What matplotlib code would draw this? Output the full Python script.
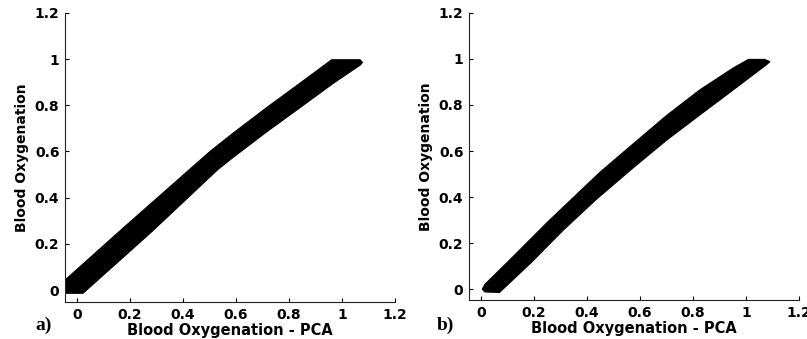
import numpy as np
import matplotlib
matplotlib.use('Agg')
import matplotlib.pyplot as plt

# outline of the scatter band, panel a (upper edge left->right, lower edge right->left)
a_upper_x = [-0.045, 0.18, 0.425, 0.502, 0.59, 0.716, 0.842, 0.961, 1.068, 1.077]
a_upper_y = [0.043, 0.274, 0.522, 0.6, 0.68, 0.79, 0.896, 0.997, 0.997, 0.986]
a_lower_x = [1.07, 0.967, 0.842, 0.716, 0.59, 0.532, 0.28, 0.023, -0.045]
a_lower_y = [0.975, 0.895, 0.79, 0.685, 0.575, 0.522, 0.25, -0.014, -0.014]

# panel b
b_upper_x = [0.005, 0.015, 0.126, 0.249, 0.373, 0.449, 0.575, 0.701, 0.826, 0.952, 1.009, 1.07, 1.09]
b_upper_y = [0.0, 0.021, 0.147, 0.289, 0.425, 0.508, 0.632, 0.755, 0.866, 0.961, 0.998, 0.998, 0.988]
b_lower_x = [1.077, 0.952, 0.826, 0.701, 0.575, 0.435, 0.311, 0.188, 0.07, 0.015]
b_lower_y = [0.975, 0.866, 0.757, 0.648, 0.528, 0.39, 0.257, 0.114, -0.014, -0.012]

ticks = [0, 0.2, 0.4, 0.6, 0.8, 1, 1.2]
tick_labels = ['0', '0.2', '0.4', '0.6', '0.8', '1', '1.2']
xlabel = 'Blood Oxygenation - PCA'
ylabel = 'Blood Oxygenation'

plt.rcParams['font.family'] = ['DejaVu Sans']
plt.rcParams['font.weight'] = 'bold'

fig = plt.figure(figsize=(8.07, 3.39), dpi=100)
ax_a = fig.add_axes([0.0805, 0.109, 0.409, 0.853])
ax_b = fig.add_axes([0.5812, 0.115, 0.409, 0.847])


def draw_panel(ax, ux, uy, lx, ly, ymin):
    xs = list(ux) + list(lx)
    ys = list(uy) + list(ly)
    ax.fill(xs, ys, color='black', lw=0.8, edgecolor='black')
    ax.set_xlim(-0.045, 1.2)
    ax.set_ylim(ymin, 1.2)
    ax.set_xticks(ticks)
    ax.set_xticklabels(tick_labels)
    ax.set_yticks(ticks)
    ax.set_yticklabels(tick_labels)
    ax.spines['top'].set_visible(False)
    ax.spines['right'].set_visible(False)
    for s in ['left', 'bottom']:
        ax.spines[s].set_linewidth(0.8)
        ax.spines[s].set_color('#222222')
    ax.tick_params(direction='in', length=3, width=0.8, labelsize=10, pad=4)
    ax.set_xlabel(xlabel, fontsize=10.5, fontweight='bold', labelpad=1)
    ax.set_ylabel(ylabel, fontsize=10, fontweight='bold', labelpad=4)


draw_panel(ax_a, a_upper_x, a_upper_y, a_lower_x, a_lower_y, -0.052)
draw_panel(ax_b, b_upper_x, b_upper_y, b_lower_x, b_lower_y, -0.047)

fig.text(35 / 807, 1 - 330 / 339, 'a)', family='Liberation Serif', fontweight='bold', fontsize=14)
fig.text(437 / 807, 1 - 330 / 339, 'b)', family='Liberation Serif', fontweight='bold', fontsize=14)

plt.savefig('out.png', dpi=100)
